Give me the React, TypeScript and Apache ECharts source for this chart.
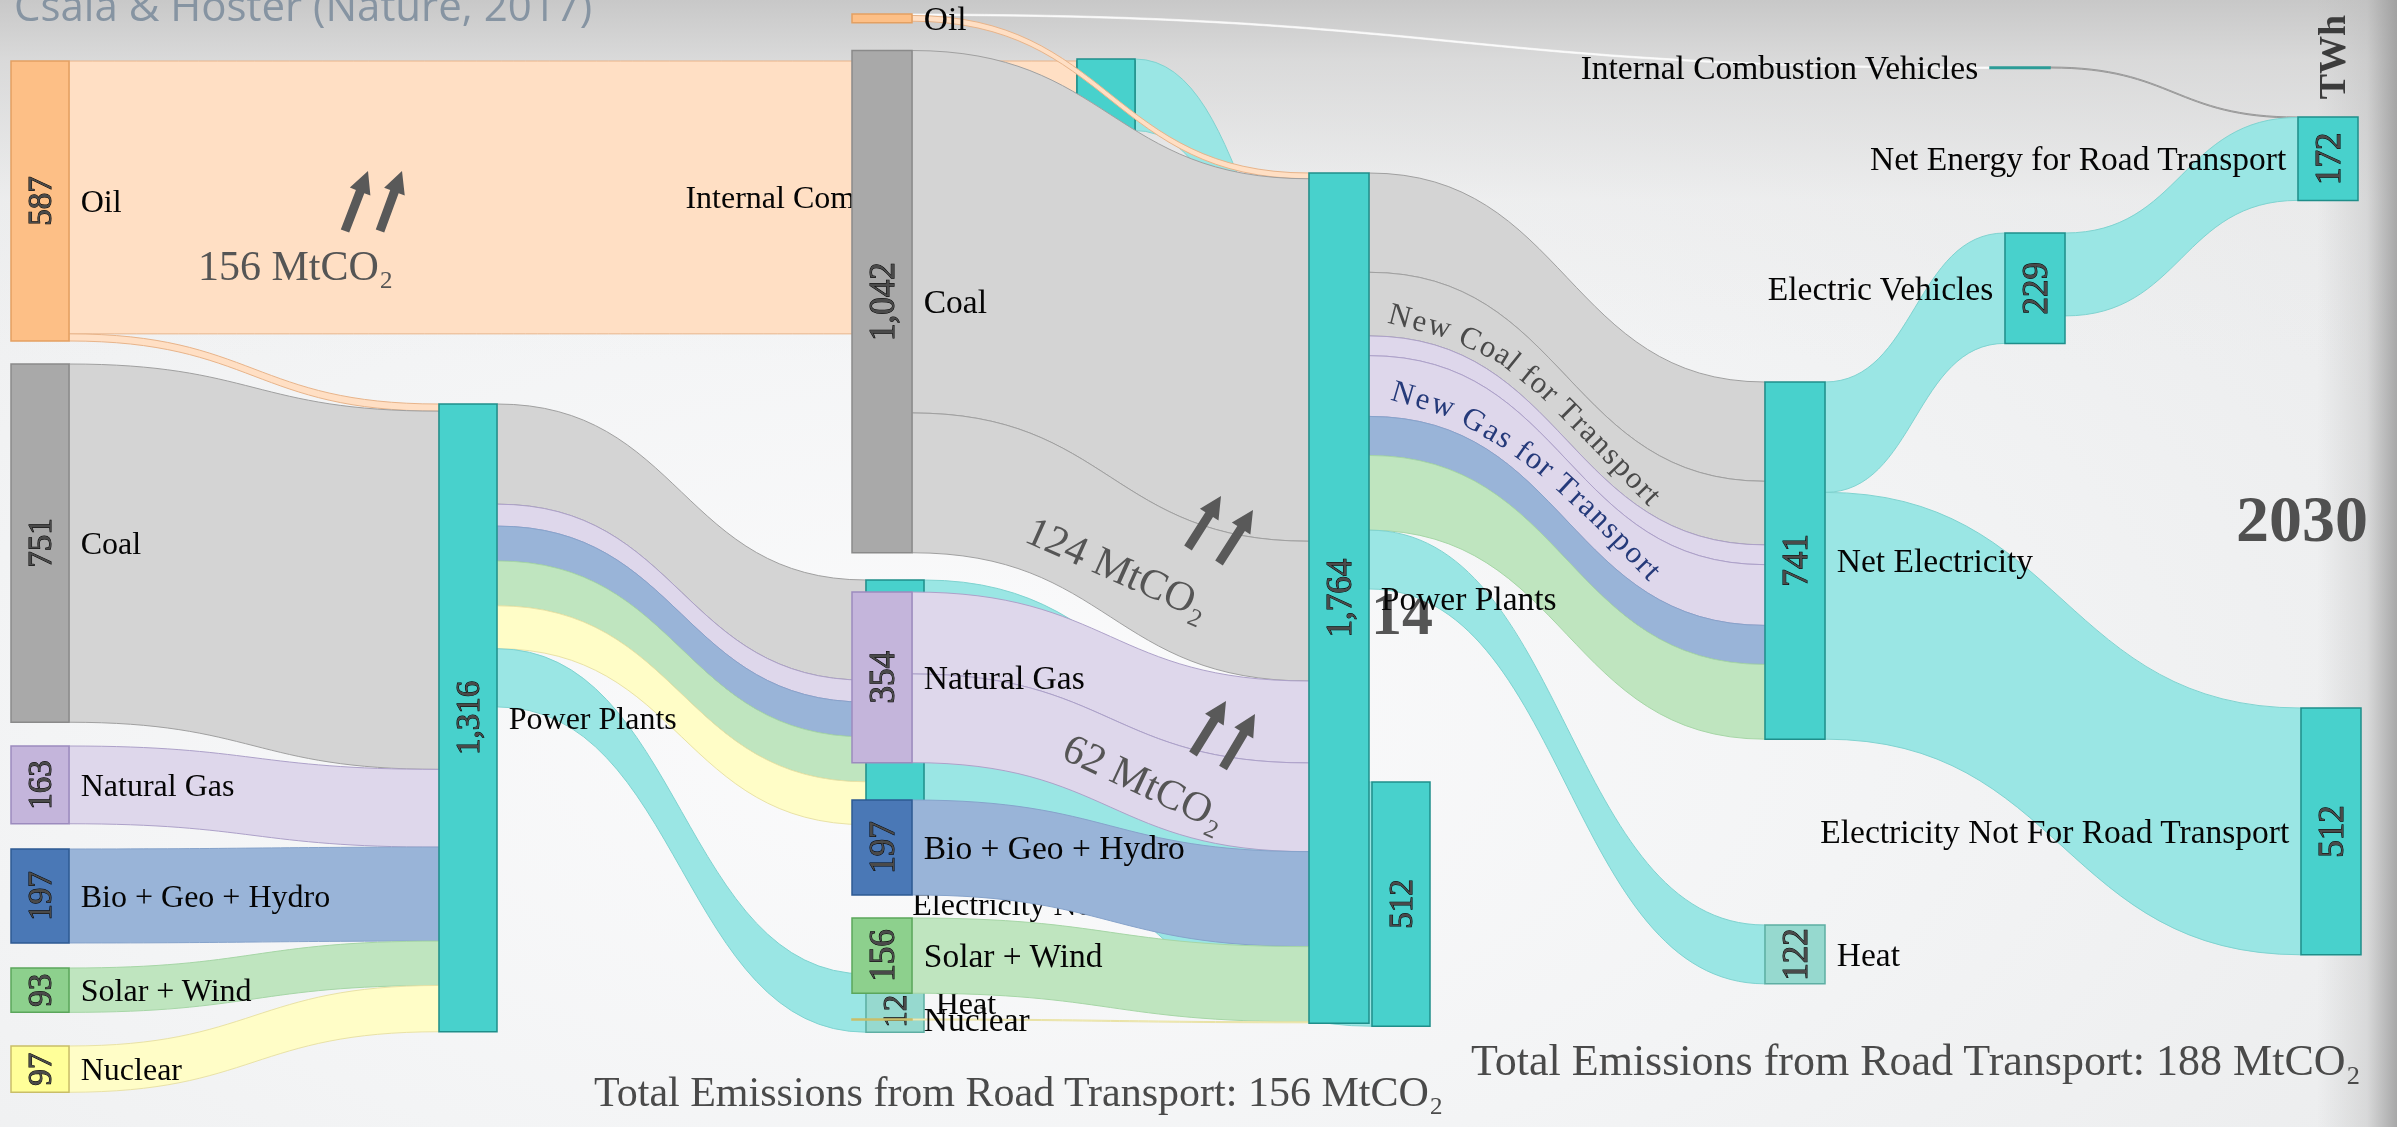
import React, { useEffect, useRef } from "react";
import * as echarts from "echarts";

// ---------------- DATA (TWh) ----------------
const NODE_NAMES = [
  "Oil",
  "Coal",
  "Natural Gas",
  "Bio + Geo + Hydro",
  "Solar + Wind",
  "Nuclear",
  "Power Plants",
  "Net Electricity",
  "Heat",
  "Internal Combustion Vehicles",
  "Electric Vehicles",
  "Net Energy for Road Transport",
  "Electricity Not For Road Transport",
];
const NODE_DEPTH = [0, 0, 0, 0, 0, 0, 1, 2, 2, 3, 3, 4, 4];
const NODE_CARRIER = ["oil", "coal", "gas", "bgh", "sw", "nuclear", "elec", "elec", "heat", "icv", "elec", "elec", "elec"];

// scenario drawn underneath (2014)
const VALUES_2014 = [587, 751, 163, 197, 93, 97, 1316, 513, 122, 572, 150, 150, 512];
// scenario drawn on top (2030)
const VALUES_2030 = [18, 1042, 354, 197, 156, 2, 1764, 741, 122, 3, 229, 172, 512];

// [source, target, value, carrier]
const LINKS_2014: [string, string, number, string][] = [
  ["Oil", "Internal Combustion Vehicles", 572, "oil"],
  ["Oil", "Power Plants", 15, "oil"],
  ["Coal", "Power Plants", 751, "coal"],
  ["Natural Gas", "Power Plants", 163, "gas"],
  ["Bio + Geo + Hydro", "Power Plants", 197, "bgh"],
  ["Solar + Wind", "Power Plants", 93, "sw"],
  ["Nuclear", "Power Plants", 97, "nuclear"],
  ["Power Plants", "Net Electricity", 210, "coal"],
  ["Power Plants", "Net Electricity", 46, "gas"],
  ["Power Plants", "Net Electricity", 73, "bgh"],
  ["Power Plants", "Net Electricity", 94, "sw"],
  ["Power Plants", "Net Electricity", 90, "nuclear"],
  ["Power Plants", "Heat", 122, "elec"],
  ["Net Electricity", "Electricity Not For Road Transport", 512, "elec"],
  ["Electric Vehicles", "Net Energy for Road Transport", 150, "elec"],
];
const LINKS_2030: [string, string, number, string][] = [
  ["Oil", "Internal Combustion Vehicles", 3, "white"],
  ["Oil", "Power Plants", 12, "oil"],
  ["Coal", "Power Plants", 752, "coal"],
  ["Coal", "Power Plants", 290, "coal"],
  ["Natural Gas", "Power Plants", 170, "gas"],
  ["Natural Gas", "Power Plants", 184, "gas"],
  ["Bio + Geo + Hydro", "Power Plants", 197, "bgh"],
  ["Solar + Wind", "Power Plants", 156, "sw"],
  ["Nuclear", "Power Plants", 2, "nuclear"],
  ["Power Plants", "Net Electricity", 206, "coal"],
  ["Power Plants", "Net Electricity", 132, "coal"],
  ["Power Plants", "Net Electricity", 41, "gas"],
  ["Power Plants", "Net Electricity", 126, "gas"],
  ["Power Plants", "Net Electricity", 81, "bgh"],
  ["Power Plants", "Net Electricity", 155, "sw"],
  ["Power Plants", "Heat", 122, "elec"],
  ["Net Electricity", "Electric Vehicles", 229, "elec"],
  ["Net Electricity", "Electricity Not For Road Transport", 512, "elec"],
  ["Internal Combustion Vehicles", "Net Energy for Road Transport", 1, "icv"],
  ["Electric Vehicles", "Net Energy for Road Transport", 172, "elec"],
];

// which labels are shown
const NAME_SIDE_2014 = ["right", "right", "right", "right", "right", "right", "right", null, "right", "left", null, null, "left"];
const NAME_SIDE_2030 = ["right", "right", "right", "right", "right", "right", "right", "right", "right", "left", "left", "left", "left"];
const SHOW_VALUE_2014 = [1, 1, 1, 1, 1, 1, 1, 0, 1, 0, 0, 0, 1];
const SHOW_VALUE_2030 = [0, 1, 1, 1, 1, 0, 1, 1, 1, 0, 1, 1, 1];

// texts
const TITLE = "Csala & Hoster (Nature, 2017)";
const EMISSIONS_2014 = "Total Emissions from Road Transport: 156 MtCO\u2082";
const EMISSIONS_2030 = "Total Emissions from Road Transport: 188 MtCO\u2082";
const CO2_OIL = "156 MtCO\u2082";
const CO2_COAL = "124 MtCO\u2082";
const CO2_GAS = "62 MtCO\u2082";
const NEW_COAL = "New Coal for Transport";
const NEW_GAS = "New Gas for Transport";
const YEAR_LEFT = "2014";
const YEAR_RIGHT = "2030";
const UNIT = "TWh";

// ---------------- LAYOUT (node placement, px) ----------------
const LAYOUT_2014: Record<string, [number, number]> = {
  Oil: [11, 61],
  Coal: [11, 364],
  "Natural Gas": [11, 746],
  "Bio + Geo + Hydro": [11, 849],
  "Solar + Wind": [11, 968],
  Nuclear: [11, 1046],
  "Power Plants": [439, 404],
  "Net Electricity": [866, 580],
  Heat: [866, 974],
  "Internal Combustion Vehicles": [1077, 61],
  "Electric Vehicles": [1077, 59],
  "Net Energy for Road Transport": [1372, 372],
  "Electricity Not For Road Transport": [1372, 782],
};
const LAYOUT_2030: Record<string, [number, number]> = {
  Oil: [852, 14],
  Coal: [852, 50.5],
  "Natural Gas": [852, 592],
  "Bio + Geo + Hydro": [852, 800],
  "Solar + Wind": [852, 918],
  Nuclear: [852, 1019],
  "Power Plants": [1309, 173],
  "Net Electricity": [1765, 382],
  Heat: [1765, 925],
  "Internal Combustion Vehicles": [1990, 67],
  "Electric Vehicles": [2005, 233],
  "Net Energy for Road Transport": [2298, 117],
  "Electricity Not For Road Transport": [2301, 708],
};

// ---------------- STYLES ----------------
const SERIF = "'Liberation Serif', 'Times New Roman', Times, serif";
const NODE_FILL: Record<string, string> = {
  oil: "#FDBF86", coal: "#A9A9A9", gas: "#C4B5DB", bgh: "#4A78B6", sw: "#8DD08D",
  nuclear: "#FFFF99", elec: "#48D1CC", heat: "#96D9CF", icv: "#2C9C97",
};
const NODE_BORDER: Record<string, string> = {
  oil: "#E3A062", coal: "#8A8A8A", gas: "#9C8BBE", bgh: "#2E5A93", sw: "#5BA65B",
  nuclear: "#C9BE68", elec: "#1F8E8A", heat: "#5EAEA3", icv: "#2C9C97",
};
const LINK_FILL: Record<string, string> = {
  oil: "#FFDFC4", coal: "#D4D4D4", gas: "#DED7EB", bgh: "#99B4D8", sw: "#BFE5BF",
  nuclear: "#FFFDC7", elec: "#9AE6E4", white: "rgba(255,255,255,0.85)", icv: "#B5B5B5",
};
const LINK_BORDER: Record<string, string> = {
  oil: "#E8B48A", coal: "#A0A0A0", gas: "#ADA1C9", bgh: "#86A3CB", sw: "#A6D6A6",
  nuclear: "#E9E2A6", elec: "#7FD3D0", white: "rgba(255,255,255,0.6)", icv: "#9A9A9A",
};

const fmt = (v: number) => Math.round(v).toLocaleString("en-US");

type Diagram = {
  values: number[];
  links: [string, string, number, string][];
  layout: Record<string, [number, number]>;
  nameSide: (string | null)[];
  showValue: number[];
  ky: number;
  nodeWidth: number;
  nameSize: number;
  valueSize: number;
  z: number;
};

const LEFT: Diagram = {
  values: VALUES_2014, links: LINKS_2014, layout: LAYOUT_2014, nameSide: NAME_SIDE_2014,
  showValue: SHOW_VALUE_2014, ky: 0.477, nodeWidth: 58, nameSize: 32, valueSize: 33, z: 2,
};
const RIGHT: Diagram = {
  values: VALUES_2030, links: LINKS_2030, layout: LAYOUT_2030, nameSide: NAME_SIDE_2030,
  showValue: SHOW_VALUE_2030, ky: 0.482, nodeWidth: 60, nameSize: 33.5, valueSize: 35, z: 3,
};

function buildSeries(d: Diagram, mode: "main" | "value", W: number) {
  const inSum: Record<string, number> = {};
  const outSum: Record<string, number> = {};
  d.links.forEach(([s, t, v]) => {
    outSum[s] = (outSum[s] || 0) + v;
    inSum[t] = (inSum[t] || 0) + v;
  });
  const colSum: Record<number, number> = {};
  NODE_NAMES.forEach((n, i) => {
    const v = Math.max(d.values[i], inSum[n] || 0, outSum[n] || 0);
    colSum[NODE_DEPTH[i]] = (colSum[NODE_DEPTH[i]] || 0) + v;
  });
  const maxSum = Math.max(...Object.values(colSum));
  const H = d.ky * maxSum;
  const data = NODE_NAMES.map((n, i) => {
    const c = NODE_CARRIER[i];
    return {
      name: n,
      value: d.values[i],
      depth: NODE_DEPTH[i],
      localX: d.layout[n][0] / W,
      localY: d.layout[n][1] / H,
      itemStyle:
        mode === "main"
          ? { color: NODE_FILL[c], borderColor: NODE_BORDER[c], borderWidth: 1.5 }
          : { color: "rgba(0,0,0,0)", borderWidth: 0 },
      label:
        mode === "main"
          ? d.nameSide[i]
            ? { show: true, position: d.nameSide[i] }
            : { show: false }
          : { show: !!d.showValue[i] },
    };
  });
  const links = d.links.map(([s, t, v, c]) => ({
    source: s,
    target: t,
    value: v,
    lineStyle:
      mode === "main"
        ? { color: LINK_FILL[c], borderColor: LINK_BORDER[c], borderWidth: 1, opacity: 1, curveness: 0.5 }
        : { color: "rgba(0,0,0,0)", opacity: 0, borderWidth: 0, curveness: 0.5 },
  }));
  return {
    type: "sankey",
    left: 0,
    top: 0,
    width: W,
    height: H,
    z: d.z,
    nodeWidth: d.nodeWidth,
    nodeGap: 0,
    layoutIterations: 0,
    nodeAlign: "left",
    draggable: false,
    silent: true,
    emphasis: { disabled: true },
    label:
      mode === "main"
        ? { show: true, position: "right", distance: 11, color: "#050505", fontFamily: SERIF, fontSize: d.nameSize }
        : {
            show: true,
            position: "inside",
            rotate: 90,
            formatter: (q: any) => fmt(q.value),
            fontFamily: SERIF,
            fontSize: d.valueSize,
            color: "#4a4a4a",
            textBorderColor: "#000000",
            textBorderWidth: 1,
          },
    lineStyle: { curveness: 0.5, opacity: 1 },
    data,
    links,
  };
}

// ---------------- ANNOTATIONS ----------------
const ARROWS: [[number, number], [number, number]][] = [
  [[345, 231], [368, 171]],
  [[380, 231], [402, 171]],
  [[1188, 548], [1221, 496]],
  [[1219, 563], [1253, 510]],
  [[1193, 754], [1226, 701]],
  [[1223, 768], [1255, 714]],
];
const NEW_COAL_PATH: [number, number][] = [[1388, 312], [1450, 328], [1505, 354], [1548, 389], [1600, 441], [1657, 500]];
const NEW_GAS_PATH: [number, number][] = [[1391, 389], [1453, 407], [1507, 438], [1545, 465], [1600, 516], [1657, 575]];

function arrow(base: [number, number], tip: [number, number]) {
  const dx = tip[0] - base[0];
  const dy = tip[1] - base[1];
  const L = Math.hypot(dx, dy);
  const ux = dx / L, uy = dy / L;
  const px = -uy, py = ux;
  const sw = 4.5, hw = 11, hl = 22;
  const hb = [tip[0] - ux * hl, tip[1] - uy * hl];
  return {
    type: "polygon",
    z: 10,
    silent: true,
    shape: {
      points: [
        [base[0] + px * sw, base[1] + py * sw],
        [hb[0] + px * sw, hb[1] + py * sw],
        [hb[0] + px * hw, hb[1] + py * hw],
        tip,
        [hb[0] - px * hw, hb[1] - py * hw],
        [hb[0] - px * sw, hb[1] - py * sw],
        [base[0] - px * sw, base[1] - py * sw],
      ],
    },
    style: { fill: "#595959" },
  };
}

function curvedText(text: string, pts: [number, number][], fontSize: number, color: string) {
  const canvas = document.createElement("canvas");
  const ctx = canvas.getContext("2d")!;
  ctx.font = `${fontSize}px ${SERIF}`;
  const chars = Array.from(text);
  const widths = chars.map((ch) => ctx.measureText(ch).width);
  const total = widths.reduce((a, b) => a + b, 0);
  const seg: number[] = [];
  let L = 0;
  for (let i = 1; i < pts.length; i++) {
    const d = Math.hypot(pts[i][0] - pts[i - 1][0], pts[i][1] - pts[i - 1][1]);
    seg.push(d);
    L += d;
  }
  const at = (s: number): [number, number] => {
    s = Math.max(0, Math.min(L, s));
    let k = 0;
    while (k < seg.length - 1 && s > seg[k]) {
      s -= seg[k];
      k++;
    }
    const t = s / seg[k];
    return [pts[k][0] + (pts[k + 1][0] - pts[k][0]) * t, pts[k][1] + (pts[k + 1][1] - pts[k][1]) * t];
  };
  const scale = L / total;
  const out: any[] = [];
  let acc = 0;
  chars.forEach((ch, i) => {
    const s = (acc + widths[i] / 2) * scale;
    acc += widths[i];
    if (ch === " ") return;
    const p = at(s);
    const a = at(s - 8);
    const b = at(s + 8);
    const ang = Math.atan2(b[1] - a[1], b[0] - a[0]);
    out.push({
      type: "text",
      z: 10,
      silent: true,
      x: p[0],
      y: p[1],
      rotation: -ang,
      style: { text: ch, fill: color, fontSize, fontFamily: SERIF, align: "center", verticalAlign: "middle" },
    });
  });
  return out;
}

function txt(text: string, x: number, y: number, o: any = {}) {
  return {
    type: "text",
    z: o.z ?? 10,
    z2: o.z2 ?? 0,
    silent: true,
    x,
    y,
    rotation: o.rotation ?? 0,
    style: {
      text,
      fill: o.fill ?? "#555555",
      fontSize: o.fontSize ?? 42,
      fontFamily: o.fontFamily ?? SERIF,
      fontWeight: o.fontWeight ?? "normal",
      align: o.align ?? "left",
      verticalAlign: "middle",
    },
  };
}

function buildGraphics() {
  const deg = Math.PI / 180;
  return [
    txt(TITLE, 14, 4, { fontFamily: "'Open Sans', sans-serif", fontSize: 42, fill: "#8694a2" }),
    txt(CO2_OIL, 198, 266, { fontSize: 42 }),
    txt(CO2_COAL, 1118, 568, { fontSize: 42, align: "center", rotation: -24 * deg }),
    txt(CO2_GAS, 1145, 782, { fontSize: 42, align: "center", rotation: -25 * deg }),
    ...ARROWS.map(([b, t]) => arrow(b, t)),
    ...curvedText(NEW_COAL, NEW_COAL_PATH, 31, "#4a4a4a"),
    ...curvedText(NEW_GAS, NEW_GAS_PATH, 31, "#253a7a"),
    txt(YEAR_LEFT, 1433, 613, { fontSize: 62, fontWeight: "bold", align: "right", z: 2, z2: 50, fill: "#555555" }),
    txt(YEAR_RIGHT, 2302, 518, { fontSize: 66, fontWeight: "bold", align: "center", fill: "#505050" }),
    txt(UNIT, 2332, 57, { fontSize: 38, fontWeight: "bold", align: "center", rotation: 90 * deg, fill: "#3c3c3c" }),
    txt(EMISSIONS_2014, 594, 1092, { fontSize: 42, fill: "#4a4a4a" }),
    txt(EMISSIONS_2030, 1471, 1060, { fontSize: 44, fill: "#4a4a4a" }),
  ];
}

const BG = [
  "linear-gradient(to left, rgba(150,150,150,0.8) 0px, rgba(185,185,185,0.4) 30px, rgba(230,230,230,0) 80px)",
  "linear-gradient(to bottom, rgba(200,200,200,1) 0px, rgba(214,214,214,0.85) 60px, rgba(232,232,232,0.35) 200px, rgba(245,245,245,0) 360px)",
  "radial-gradient(ellipse at 40% 65%, #fbfbfc 0%, #f3f4f5 45%, #e8e9ea 100%)",
].join(", ");

export default function App() {
  const ref = useRef<HTMLDivElement>(null);
  useEffect(() => {
    const el = ref.current as HTMLDivElement;
    const chart = echarts.init(el, null, { renderer: "svg" });
    const W = chart.getWidth();
    chart.setOption({
      animation: false,
      backgroundColor: "transparent",
      series: [
        buildSeries(LEFT, "main", W),
        buildSeries(LEFT, "value", W),
        buildSeries(RIGHT, "main", W),
        buildSeries(RIGHT, "value", W),
      ],
      graphic: { elements: buildGraphics() },
    } as any);
    return () => chart.dispose();
  }, []);
  return (
    <div
      ref={ref}
      style={{ position: "fixed", left: 0, top: 0, width: "100vw", height: "100vh", background: BG }}
    />
  );
}
